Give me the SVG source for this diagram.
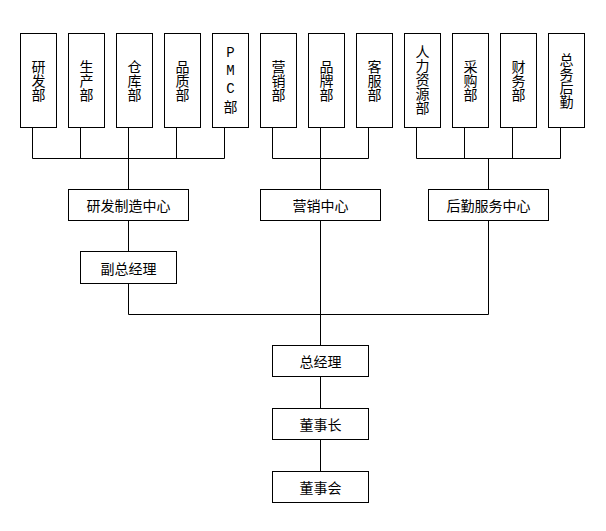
<svg xmlns="http://www.w3.org/2000/svg" width="606" height="531" viewBox="0 0 606 531">
<style>
rect{fill:#fff;stroke:#000;stroke-width:1}
text{font-family:"Noto Sans CJK SC","Noto Sans CJK JP",sans-serif;font-size:14px;fill:#000;text-anchor:middle;dominant-baseline:central}
.m{font-family:"Liberation Mono","Noto Sans CJK SC",monospace}
.c path{fill:none;stroke:#000;stroke-width:1}
</style>
<rect x="0" y="0" width="606" height="531" style="fill:#fff;stroke:none"/>
<g class="c" id="connectors">
<path d="M32.5 127V158.5H224.5V127M80.5 127V158.5M128.5 127V189M176.5 127V158.5"/>
<path d="M272.5 127V158.5H368.5V127M320.5 127V189"/>
<path d="M416.5 127V158.5H560.5V127M464.5 127V158.5M512.5 127V158.5M488.5 158.5V189"/>
<path d="M128.5 220V251M128.5 283V314.5H488.5V220M320.5 220V345M320.5 376V409M320.5 440V471"/>
</g>
<g id="n1"><rect x="20.5" y="33.5" width="36" height="94"/><text><tspan x="38.5" y="66">研</tspan><tspan x="38.5" y="80">发</tspan><tspan x="38.5" y="94">部</tspan></text></g>
<g id="n2"><rect x="68.5" y="33.5" width="36" height="94"/><text><tspan x="86.5" y="66">生</tspan><tspan x="86.5" y="80">产</tspan><tspan x="86.5" y="94">部</tspan></text></g>
<g id="n3"><rect x="116.5" y="33.5" width="36" height="94"/><text><tspan x="134.5" y="66">仓</tspan><tspan x="134.5" y="80">库</tspan><tspan x="134.5" y="94">部</tspan></text></g>
<g id="n4"><rect x="164.5" y="33.5" width="36" height="94"/><text><tspan x="182.5" y="66">品</tspan><tspan x="182.5" y="80">质</tspan><tspan x="182.5" y="94">部</tspan></text></g>
<g id="n5"><rect x="212.5" y="33.5" width="36" height="94"/><text class="m"><tspan x="230.5" y="53">P</tspan><tspan x="230.5" y="71">M</tspan><tspan x="230.5" y="89">C</tspan></text><text x="230.5" y="106">部</text></g>
<g id="n6"><rect x="260.5" y="33.5" width="36" height="94"/><text><tspan x="278.5" y="66">营</tspan><tspan x="278.5" y="80">销</tspan><tspan x="278.5" y="94">部</tspan></text></g>
<g id="n7"><rect x="308.5" y="33.5" width="36" height="94"/><text><tspan x="326.5" y="66">品</tspan><tspan x="326.5" y="80">牌</tspan><tspan x="326.5" y="94">部</tspan></text></g>
<g id="n8"><rect x="356.5" y="33.5" width="36" height="94"/><text><tspan x="374.5" y="66">客</tspan><tspan x="374.5" y="80">服</tspan><tspan x="374.5" y="94">部</tspan></text></g>
<g id="n9"><rect x="404.5" y="33.5" width="36" height="94"/><text><tspan x="422.5" y="51">人</tspan><tspan x="422.5" y="65">力</tspan><tspan x="422.5" y="79">资</tspan><tspan x="422.5" y="93">源</tspan><tspan x="422.5" y="107">部</tspan></text></g>
<g id="n10"><rect x="452.5" y="33.5" width="36" height="94"/><text><tspan x="470.5" y="66">采</tspan><tspan x="470.5" y="80">购</tspan><tspan x="470.5" y="94">部</tspan></text></g>
<g id="n11"><rect x="500.5" y="33.5" width="36" height="94"/><text><tspan x="518.5" y="66">财</tspan><tspan x="518.5" y="80">务</tspan><tspan x="518.5" y="94">部</tspan></text></g>
<g id="n12"><rect x="548.5" y="33.5" width="36" height="94"/><text><tspan x="566.5" y="59">总</tspan><tspan x="566.5" y="73">务</tspan><tspan x="566.5" y="87">后</tspan><tspan x="566.5" y="101">勤</tspan></text></g>
<g id="c1"><rect x="68.5" y="189.5" width="120" height="31"/><text x="128.5" y="205">研发制造中心</text></g>
<g id="c2"><rect x="260.5" y="189.5" width="120" height="31"/><text x="320.5" y="205">营销中心</text></g>
<g id="c3"><rect x="428.5" y="189.5" width="120" height="31"/><text x="488.5" y="205">后勤服务中心</text></g>
<g id="vp"><rect x="80.5" y="251.5" width="96" height="32"/><text x="128.5" y="267.5">副总经理</text></g>
<g id="gm"><rect x="272.5" y="345.5" width="96" height="31"/><text x="320.5" y="361">总经理</text></g>
<g id="ch"><rect x="272.5" y="408.5" width="96" height="31"/><text x="320.5" y="424">董事长</text></g>
<g id="bd"><rect x="272.5" y="471.5" width="96" height="31"/><text x="320.5" y="487">董事会</text></g>
</svg>
